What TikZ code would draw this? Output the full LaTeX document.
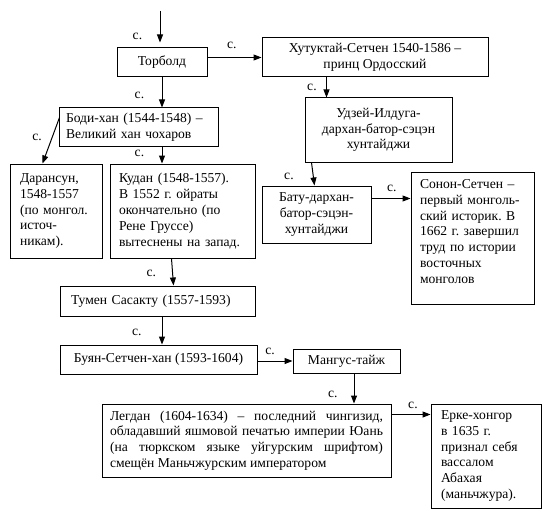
\documentclass[tikz,border=0pt]{standalone}
\usepackage{fontspec}
\setmainfont{Liberation Serif}
\usetikzlibrary{arrows.meta, calc}

\newcommand{\diagfont}{\fontsize{10.2}{11.85}\selectfont\frenchspacing}
\tikzset{
    box/.style={draw, line width=0.75pt, inner sep=0pt, font=\diagfont},
    lbox/.style={box, align=left},
    arr/.style={-{Triangle[length=6pt, width=4.5pt]}, line width=0.75pt},
    lbl/.style={font=\diagfont, inner sep=1pt},
}

\begin{document}
\begin{tikzpicture}[x=0.75pt, y=-0.75pt]
    \useasboundingbox (0,0) rectangle (550,517);
    % boxes
    \node [box, minimum width=67.5pt, minimum height=21.75pt] (torbold) at (162,62.5) {Торболд};
    \node [box, align=center, minimum width=169.5pt, minimum height=29.25pt] (khut) at (375,57.5) {Хутуктай-Сетчен 1540-1586 –\\принц Ордосский};
    \node [box, align=center, minimum width=110.25pt, minimum height=48pt] (udzei) at (378.5,130) {Удзей-Илдуга-\\дархан-батор-сэцэн\\хунтайджи};
    \node [lbox, text width=108.75pt, inner xsep=5.25pt, minimum height=28.5pt] (bodi) at (138.5,127) {Боди-хан (1544-1548) –\\Великий хан чохаров};
    \node [lbox, text width=54pt, inner xsep=7.5pt, minimum height=70.5pt] (daran) at (56,211) {Дарансун,\\1548-1557\\(по монгол.\\источ-\\никам).};
    \node [lbox, text width=95.25pt, inner xsep=6.75pt, minimum height=70.5pt] (kudan) at (182.5,211) {Кудан (1548-1557).\\В 1552 г. ойраты\\окончательно (по\\Рене Груссе)\\вытеснены на запад.};
    \node [box, align=center, minimum width=81.75pt, minimum height=42.75pt] (batu) at (316.5,214.5) {Бату-дархан-\\батор-сэцэн-\\хунтайджи};
    \node [lbox, text width=78.75pt, inner xsep=6.75pt, minimum height=99pt] (sonon) at (472.5,238) {Сонон-Сетчен –\\первый монголь-\\ский историк. В\\1662 г. завершил\\труд по истории\\восточных\\монголов\rule[-10pt]{0pt}{10pt}};
    \node [lbox, text width=129.75pt, inner xsep=8.25pt, minimum height=22.5pt] (tumen) at (157.5,301) {Тумен Сасакту (1557-1593)};
    \node [box, minimum width=147.75pt, minimum height=21.75pt] (buyan) at (158.5,359.5) {Буян-Сетчен-хан (1593-1604)};
    \node [box, minimum width=80.25pt, minimum height=18pt] (mangus) at (346.5,361) {Мангус-тайж};
    \node [box, align=justify, text width=204.75pt, inner xsep=6pt, minimum height=54.75pt] (legdan) at (246.5,440.5) {Легдан (1604-1634) – последний чингизид, \linebreak обладавший яшмовой печатью империи Юань \linebreak (на тюркском языке уйгурским шрифтом) \linebreak смещён Маньчжурским императором};
    \node [lbox, text width=67.5pt, inner xsep=7.5pt, minimum height=78pt] (erke) at (486,456) {Ерке-хонгор\\в 1635 г.\\признал себя\\вассалом\\Абахая\\(маньчжура).};
    % arrows
    \coordinate (start) at (160,11);
    \coordinate (udzeiin) at ($(udzei.north west)+(22,0)$);
    \coordinate (legdanin) at ($(mangus.south)+(7.5,0)$);
    \coordinate (sononin) at ($(sonon.north west)+(0,27)$);
    \coordinate (erkein) at ($(erke.north west)+(0,11)$);
    \draw [arr, shorten >= 3.75pt] (start) -- (start |- torbold.north) node [lbl, pos=0.7, left=12pt] {с.};
    \draw [arr] (torbold.east |- khut.west) -- (khut.west) node [lbl, pos=0.45, above=5pt] {с.};
    \draw [arr] (udzeiin |- khut.south) -- (udzeiin) node [lbl, pos=0.48, left=6pt] {с.};
    \draw [arr] (torbold.south) -- (torbold.south |- bodi.north) node [lbl, pos=0.58, left=12pt] {с.};
    \draw [arr] ($(bodi.north west)+(1,10)$) -- ($(daran.north west)+(33,0)$) node [lbl, pos=0.43, left=6.5pt] {с.};
    \draw [arr] (torbold.south |- bodi.south) -- (torbold.south |- kudan.north) node [lbl, pos=0.4, left=12pt] {с.};
    \draw [arr] ($(kudan.south west)+(62,0)$) -- ($(tumen.north west)+(114,0)$) node [lbl, pos=0.54, left=11pt] {с.};
    \draw [arr] (torbold.south |- tumen.south) -- (torbold.south |- buyan.north) node [lbl, pos=0.57, left=14pt] {с.};
    \draw [arr] (buyan.east |- mangus.west) -- (mangus.west) node [lbl, pos=0.36, above=3.4pt] {с.};
    \draw [arr] (legdanin) -- (legdanin |- legdan.north) node [lbl, pos=0.7, left=11pt] {с.};
    \draw [arr] ($(udzei.south west)+(7,0)$) -- ($(batu.north west)+(53,0)$) node [lbl, pos=0.62, left=13.4pt] {с.};
    \draw [arr] (batu.east |- sononin) -- (sononin) node [lbl, pos=0.52, above=4pt] {с.};
    \draw [arr] (legdan.east |- erkein) -- (erkein) node [lbl, pos=0.55, above=2.65pt] {с.};
\end{tikzpicture}
\end{document}
